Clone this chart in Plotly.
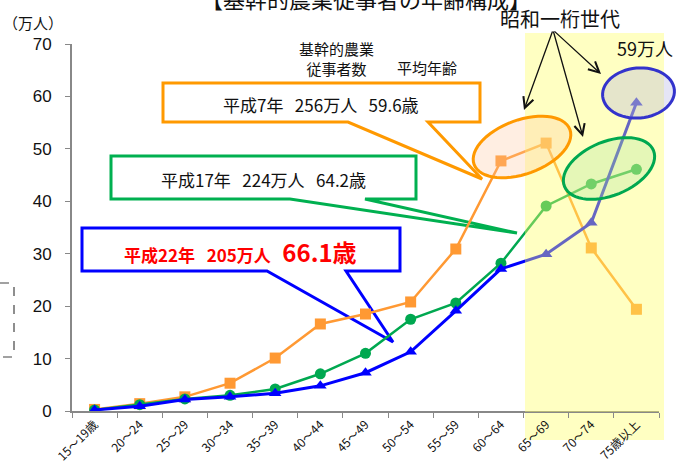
import math
import plotly.graph_objects as go

categories = ["15～19歳", "20～24", "25～29", "30～34", "35～39", "40～44", "45～49",
              "50～54", "55～59", "60～64", "65～69", "70～74", "75歳以上"]
h7_values = [0.3, 1.4, 2.7, 5.3, 10.1, 16.6, 18.5, 20.8, 30.9, 47.7, 51.1, 31.1, 19.4]
h17_values = [0.2, 1.2, 2.3, 3.0, 4.2, 7.1, 11.0, 17.5, 20.6, 28.2, 39.1, 43.3, 46.1]
h22_values = [0.2, 0.9, 2.2, 2.7, 3.4, 4.8, 7.3, 11.3, 19.1, 27.1, 29.9, 35.9, 58.8]
y_ticks = [0, 10, 20, 30, 40, 50, 60, 70]

W, H = 679, 471
PL, PR, PT, PB = 72, 659, 44, 411
FONT = "Noto Sans CJK JP, Noto Sans, sans-serif"


def px(x):
    return (x - PL) / (PR - PL)


def py(y):
    return (PB - y) / (PB - PT)


def pt(x, y):
    return f"{px(x):.5f},{py(y):.5f}"


def poly_path(points):
    return "M " + " L ".join(pt(x, y) for x, y in points) + " Z"


def ellipse_path(cx, cy, a, b, theta_deg, n=60):
    th = math.radians(theta_deg)
    pts = []
    for i in range(n):
        t = 2 * math.pi * i / n
        x = cx + a * math.cos(t) * math.cos(th) - b * math.sin(t) * math.sin(th)
        y = cy - (a * math.cos(t) * math.sin(th) + b * math.sin(t) * math.cos(th))
        pts.append((x, y))
    return poly_path(pts)


fig = go.Figure()
fig.add_trace(go.Scatter(x=categories, y=h7_values, mode="lines+markers", name="平成7年",
                         line=dict(color="#FF9933", width=2.5),
                         marker=dict(symbol="square", size=11, color="#FF9933")))
fig.add_trace(go.Scatter(x=categories, y=h17_values, mode="lines+markers", name="平成17年",
                         line=dict(color="#00A850", width=2.5),
                         marker=dict(symbol="circle", size=11, color="#00A850")))
fig.add_trace(go.Scatter(x=categories, y=h22_values, mode="lines+markers", name="平成22年",
                         line=dict(color="#0000FF", width=3),
                         marker=dict(symbol="triangle-up", size=11, color="#0000FF")))

shapes = []
# yellow highlight part below the axis (under tick labels)
shapes.append(dict(type="rect", xref="paper", yref="paper", layer="below",
                   x0=px(525), x1=px(664), y0=py(440), y1=py(412),
                   fillcolor="#FFFFC2", line=dict(width=0)))
# callout boxes (below traces)
shapes.append(dict(type="path", xref="paper", yref="paper", layer="below",
                   path=poly_path([(163, 83), (480, 83), (480, 122), (428, 122), (482, 179),
                                   (348, 122), (163, 122)]),
                   line=dict(color="#FF9900", width=3), fillcolor="white"))
shapes.append(dict(type="path", xref="paper", yref="paper", layer="below",
                   path=poly_path([(111, 156), (416, 156), (416, 199), (365, 199), (517, 233),
                                   (290, 199), (111, 199)]),
                   line=dict(color="#00B050", width=3), fillcolor="white"))
shapes.append(dict(type="path", xref="paper", yref="paper", layer="below",
                   path=poly_path([(82, 228), (400, 228), (400, 271), (346, 271), (393, 342),
                                   (267, 271), (82, 271)]),
                   line=dict(color="#0000FF", width=3), fillcolor="white"))
# yellow highlight over the plot area
shapes.append(dict(type="rect", xref="paper", yref="paper", layer="above",
                   x0=px(525), x1=px(664), y0=py(412), y1=py(33),
                   fillcolor="#FFFF66", opacity=0.4, line=dict(width=0)))
# ellipses
shapes.append(dict(type="path", xref="paper", yref="paper", layer="above",
                   path=ellipse_path(522, 147, 51, 27, 20),
                   line=dict(color="#FF9900", width=3), fillcolor="rgba(255,200,160,0.3)"))
shapes.append(dict(type="path", xref="paper", yref="paper", layer="above",
                   path=ellipse_path(609, 168.5, 48, 27, 22),
                   line=dict(color="#00A850", width=3), fillcolor="rgba(150,225,150,0.25)"))
shapes.append(dict(type="path", xref="paper", yref="paper", layer="above",
                   path=ellipse_path(638.5, 93, 36, 25, 5),
                   line=dict(color="#3333CC", width=3), fillcolor="rgba(170,170,225,0.3)"))
# dashed bracket at left
shapes.append(dict(type="path", xref="paper", yref="paper", layer="above",
                   path="M " + pt(0, 283) + " L " + pt(14, 283) + " L " + pt(14, 357) + " L " + pt(0, 357),
                   line=dict(color="#444444", width=1.2, dash="dash")))

annotations = []


def text(x, y, s, size, color="#111111", **kw):
    annotations.append(dict(x=px(x), y=py(y), xref="paper", yref="paper", text=s,
                            showarrow=False, xanchor="center", yanchor="middle",
                            font=dict(size=size, color=color, family=FONT), **kw))


SP = "&nbsp;&nbsp;&nbsp;"
text(366, -2, "【基幹的農業従事者の年齢構成】", 22)
text(33, 22, "（万人）", 15)
text(336, 58, "基幹的農業<br>従事者数", 15)
text(427, 68, "平均年齢", 15)
text(560, 18, "昭和一桁世代", 20)
text(645, 48, "59万人", 18)
text(321, 104, f"平成7年{SP}256万人{SP}59.6歳", 17)
text(263, 179, f"平成17年{SP}224万人{SP}64.2歳", 17)
text(240, 252, f"<b>平成22年{SP}205万人{SP}<span style='font-size:24px'>66.1歳</span></b>",
     17, color="#FF0000")

# arrows from 昭和一桁世代
for hx, hy in [(524, 110), (583, 137), (601, 74)]:
    annotations.append(dict(x=px(hx), y=py(hy), xref="paper", yref="paper", text="",
                            showarrow=True, ax=553 - hx, ay=30 - hy, axref="pixel", ayref="pixel",
                            arrowhead=5, arrowsize=1.6, arrowwidth=1.3, arrowcolor="#111111"))

fig.update_layout(
    width=W, height=H,
    margin=dict(l=PL, r=W - PR, t=PT, b=H - PB, autoexpand=False),
    paper_bgcolor="white", plot_bgcolor="rgba(0,0,0,0)",
    showlegend=False,
    shapes=shapes, annotations=annotations,
    font=dict(family=FONT, color="#111111"),
)
fig.update_xaxes(type="category", range=[-0.5, 12.5], showline=True, linecolor="#888888",
                 linewidth=2, ticks="outside", tickson="boundaries", ticklen=5, tickcolor="#888888",
                 tickangle=-45, tickfont=dict(size=12, family=FONT, color="#111111"),
                 showgrid=False, zeroline=False, automargin=False)
fig.update_yaxes(range=[0, 70], tickvals=y_ticks, showline=True, linecolor="#888888", linewidth=2,
                 ticks="outside", ticklen=5, tickcolor="#888888", ticklabelstandoff=10,
                 tickfont=dict(size=17, family="Liberation Sans, Arial", color="#111111"),
                 showgrid=False, zeroline=False, automargin=False)

fig.write_html("out.html", config={"displayModeBar": False},
               post_script="document.body.style.margin='0';document.body.style.overflow='hidden';")
